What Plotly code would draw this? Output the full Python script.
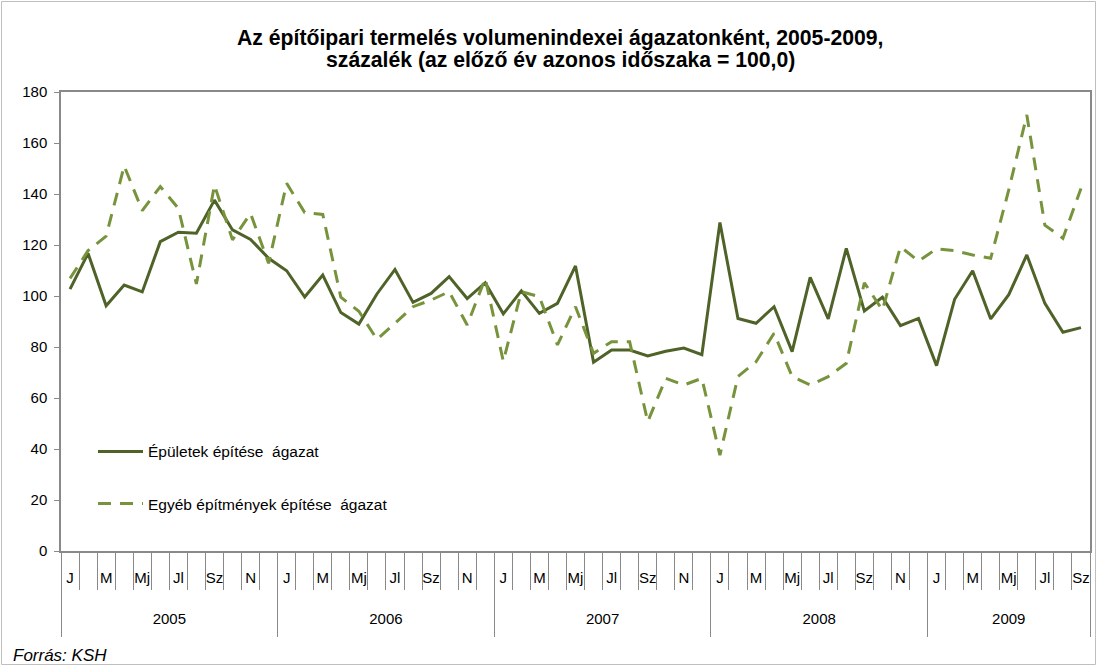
import plotly.graph_objects as go

years = ["2005", "2006", "2007", "2008", "2009"]
months_per_year = [12, 12, 12, 12, 9]
month_labels = ["J", "", "M", "", "Mj", "", "Jl", "", "Sz", "", "N", ""]

epuletek = [102.7, 116.7, 96.2, 104.3, 101.6, 121.3, 125.0, 124.6, 137.6, 125.9, 122.2, 114.8,
            109.9, 99.6, 108.2, 93.5, 89.0, 100.8, 110.4, 97.5, 101.0, 107.6, 99.0, 105.2,
            93.0, 102.0, 93.2, 97.1, 111.8, 74.0, 78.8, 78.8, 76.5, 78.3, 79.6, 77.0,
            128.8, 91.2, 89.3, 95.8, 78.2, 107.3, 91.0, 118.7, 94.1, 99.5, 88.4, 91.2,
            72.7, 98.7, 109.9, 91.0, 100.5, 116.1, 97.1, 85.8, 87.6]
egyeb = [106.9, 117.8, 123.5, 151.0, 133.5, 142.9, 134.4, 104.7, 143.5, 122.0, 132.4, 112.8,
         144.2, 132.7, 132.0, 99.5, 94.0, 83.0, 89.3, 95.8, 98.4, 101.7, 88.6, 106.9,
         74.4, 101.7, 99.7, 80.8, 95.8, 77.5, 82.1, 82.1, 50.7, 67.7, 65.1, 67.7,
         37.6, 68.4, 74.2, 85.4, 68.4, 65.1, 68.4, 73.6, 105.2, 94.5, 119.3, 113.7,
         118.5, 117.8, 116.1, 114.8, 141.6, 171.0, 127.8, 122.6, 142.2]

# category positions (one slot per month)
n = sum(months_per_year)
pos = list(range(n))
tick_text = [month_labels[i % 12] for i in pos]
month_bounds = [i - 0.5 for i in range(n + 1)]
year_bounds, year_centers = [], []
start = 0
for m in months_per_year:
    year_bounds.append(start - 0.5)
    year_centers.append(start + (m - 1) / 2)
    start += m
year_bounds.append(n - 0.5)

FONT = "Arial, Liberation Sans, sans-serif"
AX = "#898989"
XR = [-0.5, n - 0.5]

fig = go.Figure()
fig.add_trace(go.Scatter(
    x=pos, y=epuletek, mode="lines",
    name="Épületek építése  ágazat", legendgroup="a",
    line=dict(color="#4F6228", width=3)))
fig.add_trace(go.Scatter(
    x=pos, y=egyeb, mode="lines",
    name="Egyéb építmények építése  ágazat", legendgroup="b",
    line=dict(color="#77933C", width=3, dash="13px,9px")))
# empty trace so the year-level axis gets drawn
fig.add_trace(go.Scatter(x=[], y=[], xaxis="x2", yaxis="y", mode="lines",
                         showlegend=False, hoverinfo="skip"))

fig.update_layout(
    width=1097, height=666,
    margin=dict(l=61, r=7, t=92, b=115),
    paper_bgcolor="white", plot_bgcolor="white",
    font=dict(family=FONT, size=15, color="black"),
    showlegend=True,
    legend=dict(x=0.0311, y=0.253, xanchor="left", yanchor="top",
                bgcolor="rgba(0,0,0,0)", tracegroupgap=29, itemwidth=45,
                font=dict(size=15.5)),
    xaxis=dict(range=XR, showline=True, linecolor=AX, linewidth=1.5, mirror=True,
               tickmode="array", tickvals=pos, ticktext=tick_text, ticks="",
               tickangle=0, ticklabelstandoff=12, showgrid=False, zeroline=False,
               automargin=False, tickfont=dict(size=15),
               minor=dict(tickmode="array", tickvals=month_bounds, ticks="outside",
                          ticklen=37, tickcolor=AX, tickwidth=1, showgrid=False)),
    xaxis2=dict(range=XR, overlaying="x", anchor="y", side="bottom", showline=False,
                tickmode="array", tickvals=year_centers, ticktext=years, ticks="",
                tickangle=0, ticklabelstandoff=57, showgrid=False, zeroline=False,
                automargin=False, tickfont=dict(size=15),
                minor=dict(tickmode="array", tickvals=year_bounds, ticks="outside",
                           ticklen=85, tickcolor=AX, tickwidth=1, showgrid=False)),
    yaxis=dict(range=[0, 180], dtick=20, showline=True, linecolor=AX, linewidth=1.5,
               mirror=True, ticks="outside", ticklen=5, tickcolor=AX,
               ticklabelstandoff=4, automargin=False,
               showgrid=False, zeroline=False, tickfont=dict(size=15)),
)

fig.add_annotation(text="<b>Az építőipari termelés volumenindexei ágazatonként, 2005-2009,</b>",
                   xref="paper", yref="paper", x=(560 - 61) / 1029, y=1 + (92 - 38) / 459,
                   xanchor="center", yanchor="middle", showarrow=False,
                   font=dict(size=21.2))
fig.add_annotation(text="<b>százalék (az előző év azonos időszaka = 100,0)</b>",
                   xref="paper", yref="paper", x=(560 - 61) / 1029, y=1 + (92 - 60) / 459,
                   xanchor="center", yanchor="middle", showarrow=False,
                   font=dict(size=21.2))

fig.add_annotation(text="<i>Forrás: KSH</i>", xref="paper", yref="paper",
                   x=-50 / 1029, y=-(655 - 551) / 459, xanchor="left", yanchor="middle",
                   showarrow=False, font=dict(size=17))

fig.add_shape(type="rect", xref="paper", yref="paper",
              x0=-59.5 / 1029, x1=1 + 5.5 / 1029, y0=-113.5 / 459, y1=1 + 90.5 / 459,
              line=dict(color="#BFBFBF", width=1), layer="below")

fig.write_html("out.html", config={"displayModeBar": False},
               post_script="document.body.style.margin='0';")
